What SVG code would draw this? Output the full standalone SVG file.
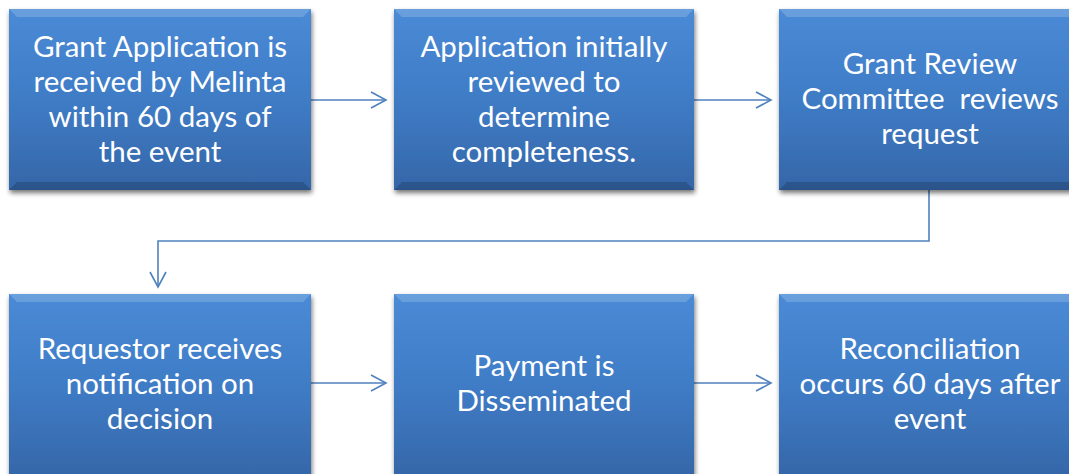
<svg xmlns="http://www.w3.org/2000/svg" width="1069" height="474" viewBox="0 0 1069 474">
<defs>
<linearGradient id="g" x1="0" y1="0" x2="0" y2="1">
<stop offset="0" stop-color="#4a8ad6"/>
<stop offset="0.5" stop-color="#3f7cc6"/>
<stop offset="1" stop-color="#3566a8"/>
</linearGradient>
<filter id="sh" x="-10%" y="-10%" width="120%" height="125%">
<feGaussianBlur in="SourceAlpha" stdDeviation="2.5"/>
<feOffset dx="1" dy="3"/>
<feComponentTransfer><feFuncA type="linear" slope="0.55"/></feComponentTransfer>
<feMerge><feMergeNode/><feMergeNode in="SourceGraphic"/></feMerge>
</filter>
<marker id="ah" markerWidth="20" markerHeight="20" refX="16" refY="10" orient="auto" markerUnits="userSpaceOnUse">
<path d="M1,2 L16,10 L1,18" fill="none" stroke="#4f81bd" stroke-width="1.6"/>
</marker>
</defs>
<style>
.box{fill:url(#g);filter:url(#sh)}
.bt{fill:#ffffff;opacity:0.18}
.bb{fill:#000000;opacity:0.18}
.t{font-family:Lato,"Open Sans","Liberation Sans",sans-serif;font-size:29.5px;fill:#ffffff;text-anchor:middle}
.c{fill:none;stroke:#4f81bd;stroke-width:1.6;marker-end:url(#ah)}
</style>
<rect width="1069" height="474" fill="#ffffff"/>
<g id="connectors">
<path class="c" d="M311,100 L386,100"/>
<path class="c" d="M694,100 L771,100"/>
<path class="c" d="M929,190 L929,241 L158,241 L158,287"/>
<path class="c" d="M311,383 L386,383"/>
<path class="c" d="M694,383 L771,383"/>
</g>
<g id="n1">
<rect class="box" x="9" y="9" width="302" height="181"/>
<path class="bt" d="M9,9 L311,9 L303,17 L17,17 Z"/>
<path class="bb" d="M9,190 L311,190 L303,182 L17,182 Z"/>
<text class="t" x="160" y="57">Grant Application is</text>
<text class="t" x="160" y="92">received by Melinta</text>
<text class="t" x="160" y="127">within 60 days of</text>
<text class="t" x="160" y="162">the event</text>
</g>
<g id="n2">
<rect class="box" x="394" y="9" width="300" height="181"/>
<path class="bt" d="M394,9 L694,9 L686,17 L402,17 Z"/>
<path class="bb" d="M394,190 L694,190 L686,182 L402,182 Z"/>
<text class="t" x="544" y="57">Application initially</text>
<text class="t" x="544" y="92">reviewed to</text>
<text class="t" x="544" y="127">determine</text>
<text class="t" x="544" y="162">completeness.</text>
</g>
<g id="n3">
<rect class="box" x="779" y="9" width="302" height="181"/>
<path class="bt" d="M779,9 L1081,9 L1073,17 L787,17 Z"/>
<path class="bb" d="M779,190 L1081,190 L1073,182 L787,182 Z"/>
<text class="t" x="930" y="74">Grant Review</text>
<text class="t" x="930" y="109" xml:space="preserve">Committee  reviews</text>
<text class="t" x="930" y="144">request</text>
</g>
<g id="n4">
<rect class="box" x="9" y="294" width="302" height="185"/>
<path class="bt" d="M9,294 L311,294 L303,302 L17,302 Z"/>
<text class="t" x="160" y="359">Requestor receives</text>
<text class="t" x="160" y="394">notification on</text>
<text class="t" x="160" y="429">decision</text>
</g>
<g id="n5">
<rect class="box" x="394" y="294" width="300" height="185"/>
<path class="bt" d="M394,294 L694,294 L686,302 L402,302 Z"/>
<text class="t" x="544" y="376">Payment is</text>
<text class="t" x="544" y="411">Disseminated</text>
</g>
<g id="n6">
<rect class="box" x="779" y="294" width="302" height="185"/>
<path class="bt" d="M779,294 L1081,294 L1073,302 L787,302 Z"/>
<text class="t" x="930" y="359">Reconciliation</text>
<text class="t" x="930" y="394">occurs 60 days after</text>
<text class="t" x="930" y="429">event</text>
</g>
</svg>
